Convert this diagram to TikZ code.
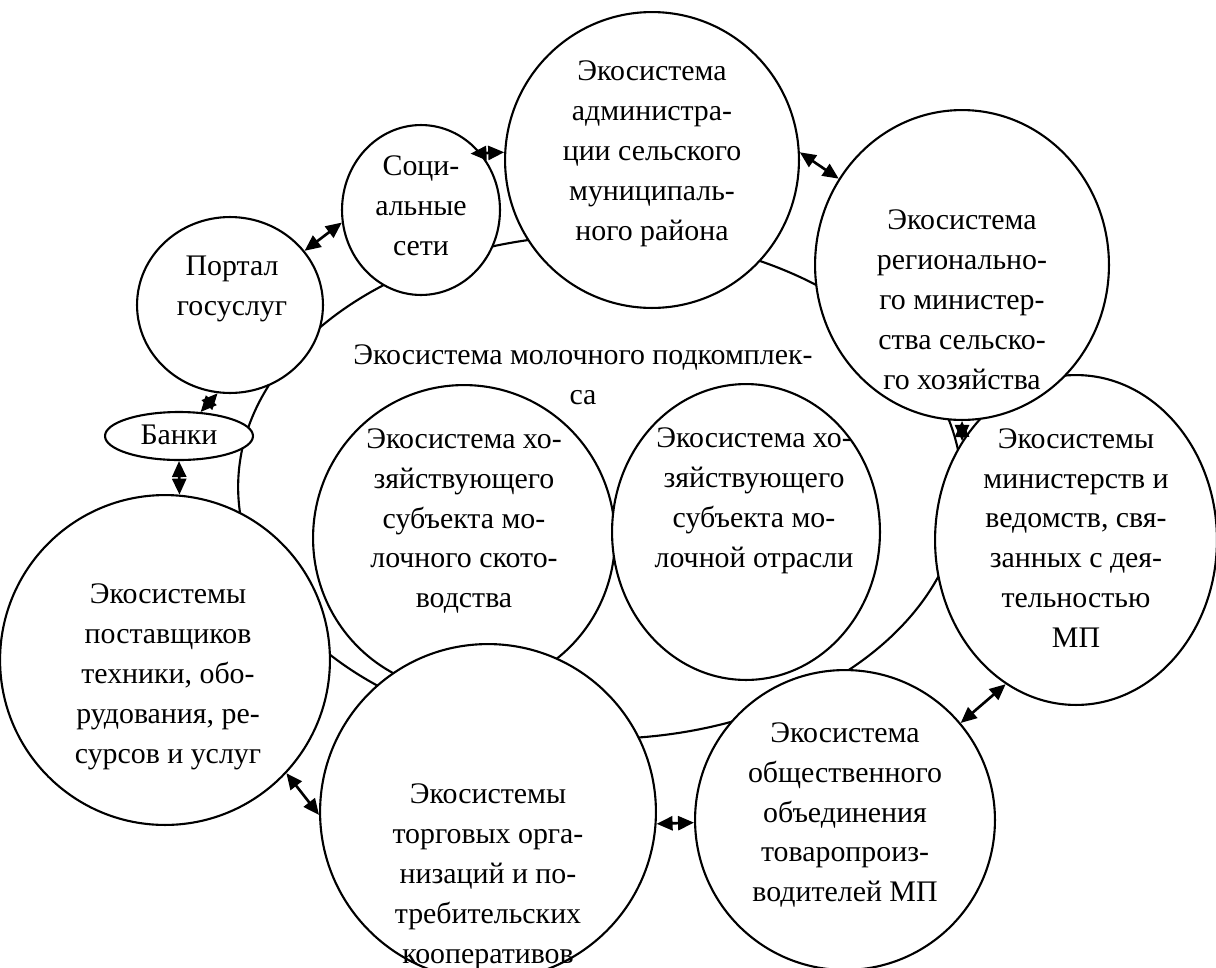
\documentclass[tikz,border=0pt]{standalone}
\usepackage{fontspec}
\setmainfont{Liberation Serif}
\usetikzlibrary{arrows.meta,shapes.geometric}

\tikzset{
  eco/.style 2 args={draw,ellipse,line width=1.2pt,fill=white,inner sep=0pt,
    minimum width=#1*0.04cm,minimum height=#2*0.04cm},
  ecotext/.style={align=center,font=\fontsize{17}{22.7}\selectfont},
  link/.style={{Triangle[length=3.2mm,width=2.8mm]}-{Triangle[length=3.2mm,width=2.8mm]},line width=1.5pt}
}

\begin{document}
\begin{tikzpicture}[x=0.02cm,y=-0.02cm]
  \useasboundingbox (0,0) rectangle (1216,967);

  % dairy subcomplex (outer ring)
  \node[eco={362}{252},fill=none] (milk) at (600,487) {};
  \node[ecotext] (milk-t) at (583,375) {Экосистема молочного подкомплек-\\са};

  % inner economic entities
  \node[eco={151}{153}] (herd) at (464,538) {};
  \node[eco={134}{148}] (dairy) at (746,532) {};
  \node[ecotext] (herd-t) at (464,521) {Экосистема хо-\\зяйствующего\\субъекта мо-\\лочного ското-\\водства};
  \node[ecotext] (dairy-t) at (754,501) {Экосистема хо-\\зяйствующего\\субъекта мо-\\лочной отрасли};

  % surrounding ecosystems
  \node[eco={147}{148}] (admin) at (652,160) {};
  \node[eco={79}{85}] (social) at (421,210) {};
  \node[eco={141}{165}] (minist) at (1076,540) {};
  \node[eco={147}{155}] (region) at (962,265) {};
  \node[eco={93}{88}] (portal) at (230,305) {};
  \node[eco={74}{24}] (banks) at (179,436) {};
  \node[eco={165}{165}] (supply) at (165,660) {};
  \node[eco={168}{168}] (trade) at (488,812) {};
  \node[eco={150}{150}] (union) at (845,820) {};

  \node[ecotext] (admin-t) at (652,154) {Экосистема\\администра-\\ции сельского\\муниципаль-\\ного района};
  \node[ecotext] (social-t) at (421,206) {Соци-\\альные\\сети};
  \node[ecotext] (region-t) at (962,300) {Экосистема\\регионально-\\го министер-\\ства сельско-\\го хозяйства};
  \node[ecotext] (portal-t) at (232,289) {Портал\\госуслуг};
  \node[ecotext] (banks-t) at (179,435) {Банки};
  \node[ecotext] (minist-t) at (1076,538) {Экосистемы\\министерств и\\ведомств, свя-\\занных с дея-\\тельностью\\МП};
  \node[ecotext] (supply-t) at (168,677) {Экосистемы\\поставщиков\\техники, обо-\\рудования, ре-\\сурсов и услуг};
  \node[ecotext] (trade-t) at (488,877) {Экосистемы\\торговых орга-\\низаций и по-\\требительских\\кооперативов};
  \node[ecotext] (union-t) at (845,815) {Экосистема\\общественного\\объединения\\товаропроиз-\\водителей МП};

  % links
  \draw[link] ([xshift=-0.22cm]social.43) -- (admin.177);
  \draw[link] (admin.3) -- (region.145);
  \draw[link] (portal.36) -- (social.-171);
  \draw[link] (portal.-98) -- (banks.48);
  \draw[link] (banks.-90) -- (supply.85);
  \draw[link] (region.-90) -- (minist.139.6);
  \draw[link] (minist.-116) -- (union.40.4);
  \draw[link] (union.181) -- (trade.-4);
  \draw[link] (supply.-43) -- (trade.181);
\end{tikzpicture}
\end{document}
